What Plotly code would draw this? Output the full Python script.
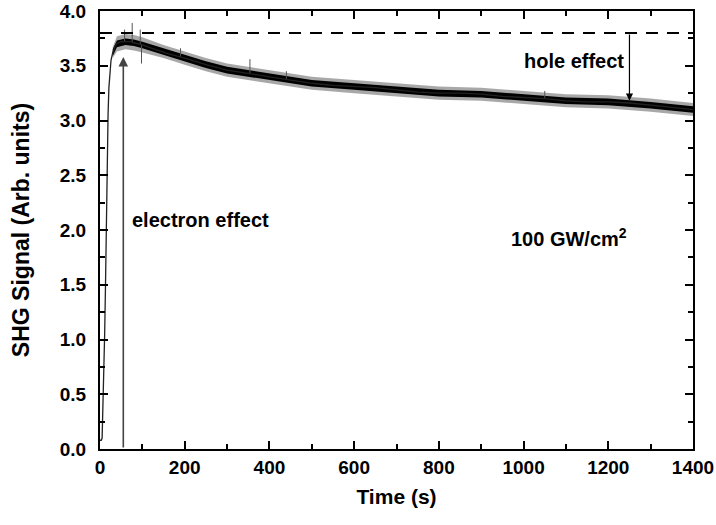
import plotly.graph_objects as go

# --- data ---
time_s = [0, 3, 5, 7, 9, 11, 13, 15, 17, 19, 21, 23, 26, 30, 34, 38, 44, 50, 60, 70,
          80, 100, 130, 160, 200, 250, 300, 350, 400, 450, 500, 550, 600, 650, 700,
          750, 800, 850, 900, 950, 1000, 1050, 1100, 1150, 1200, 1250, 1300, 1350, 1400]
shg = [0.08, 0.08, 0.10, 0.35, 0.70, 1.05, 1.50, 2.10, 2.70, 3.05, 3.30, 3.45, 3.55, 3.62,
       3.67, 3.70, 3.71, 3.72, 3.72, 3.72, 3.71, 3.69, 3.65, 3.61, 3.57, 3.51, 3.46, 3.43,
       3.40, 3.37, 3.34, 3.32, 3.31, 3.30, 3.28, 3.26, 3.25, 3.25, 3.24, 3.22, 3.21, 3.20,
       3.18, 3.17, 3.17, 3.16, 3.14, 3.12, 3.10]

# noise band (read envelopes of the dark trace and of its grey spikes)
band_t = [30, 40, 60, 80, 100, 150, 200, 250, 300, 400, 500, 600, 700, 800, 900, 1000,
          1100, 1200, 1300, 1400]
inner_hi = [3.65, 3.73, 3.75, 3.74, 3.72, 3.66, 3.60, 3.54, 3.49, 3.43, 3.37, 3.34, 3.31,
            3.28, 3.27, 3.24, 3.21, 3.20, 3.17, 3.13]
inner_lo = [3.59, 3.67, 3.69, 3.68, 3.66, 3.60, 3.54, 3.48, 3.43, 3.37, 3.31, 3.28, 3.25,
            3.22, 3.21, 3.18, 3.15, 3.14, 3.11, 3.07]
outer_hi = [3.67, 3.77, 3.79, 3.78, 3.76, 3.69, 3.63, 3.57, 3.52, 3.46, 3.40, 3.37, 3.34,
            3.31, 3.30, 3.27, 3.24, 3.23, 3.20, 3.16]
outer_lo = [3.57, 3.63, 3.65, 3.64, 3.62, 3.57, 3.51, 3.45, 3.40, 3.34, 3.28, 3.25, 3.22,
            3.19, 3.18, 3.15, 3.12, 3.11, 3.08, 3.04]

# isolated spikes: time, base, tip
spike_t = [58, 76, 95, 98, 190, 354, 440, 1050]
spike_base = [3.72, 3.71, 3.69, 3.69, 3.58, 3.43, 3.38, 3.20]
spike_tip = [3.83, 3.89, 3.83, 3.52, 3.66, 3.56, 3.45, 3.27]

ref_level = 3.8
ref_t = [0, 1400]
electron_t = 55
electron_tip = 3.58
hole_t = 1250
hole_tip = 3.18

x_ticks = [0, 200, 400, 600, 800, 1000, 1200, 1400]
y_ticks = [0.0, 0.5, 1.0, 1.5, 2.0, 2.5, 3.0, 3.5, 4.0]

FONT = "Liberation Sans, Arial, sans-serif"

fig = go.Figure()

# outer (grey) noise band
fig.add_trace(go.Scatter(x=band_t, y=outer_hi, mode="lines", line=dict(width=0, color="#888"),
                         showlegend=False, hoverinfo="skip"))
fig.add_trace(go.Scatter(x=band_t, y=outer_lo, mode="lines", line=dict(width=0, color="#888"),
                         fill="tonexty", fillcolor="rgba(110,110,110,0.6)",
                         showlegend=False, hoverinfo="skip"))
# inner (black) band
fig.add_trace(go.Scatter(x=band_t, y=inner_hi, mode="lines", line=dict(width=0, color="black"),
                         showlegend=False, hoverinfo="skip"))
fig.add_trace(go.Scatter(x=band_t, y=inner_lo, mode="lines", line=dict(width=0, color="black"),
                         fill="tonexty", fillcolor="black",
                         showlegend=False, hoverinfo="skip"))

# spikes
sx, sy = [], []
for t, b, tip in zip(spike_t, spike_base, spike_tip):
    sx += [t, t, None]
    sy += [b, tip, None]
fig.add_trace(go.Scatter(x=sx, y=sy, mode="lines", line=dict(width=1, color="#555"),
                         showlegend=False, hoverinfo="skip"))

# main signal
fig.add_trace(go.Scatter(x=time_s, y=shg, mode="lines", line=dict(width=1.3, color="#222"),
                         showlegend=False))

# dashed reference level
fig.add_trace(go.Scatter(x=ref_t, y=[ref_level, ref_level], mode="lines",
                         line=dict(width=2, color="black", dash="12px,9px"),
                         showlegend=False, hoverinfo="skip"))

# arrows
fig.add_annotation(x=electron_t, y=electron_tip, ax=electron_t, ay=0,
                   xref="x", yref="y", axref="x", ayref="y", text="",
                   showarrow=True, arrowhead=2, arrowsize=1.2, arrowwidth=1.6,
                   arrowcolor="#444")
fig.add_annotation(x=hole_t, y=hole_tip, ax=hole_t, ay=ref_level,
                   xref="x", yref="y", axref="x", ayref="y", text="",
                   showarrow=True, arrowhead=2, arrowsize=1.2, arrowwidth=1.2,
                   arrowcolor="black")

# labels
fig.add_annotation(x=0.051, y=0.522, xref="paper", yref="paper", text="<b>electron effect</b>",
                   showarrow=False, xanchor="left", yanchor="middle",
                   font=dict(family=FONT, size=20, color="black"))
fig.add_annotation(x=0.887, y=0.886, xref="paper", yref="paper", text="<b>hole effect</b>",
                   showarrow=False, xanchor="right", yanchor="middle",
                   font=dict(family=FONT, size=20, color="black"))
fig.add_annotation(x=0.69, y=0.483, xref="paper", yref="paper",
                   text="<b>100 GW/cm<sup>2</sup></b>",
                   showarrow=False, xanchor="left", yanchor="middle",
                   font=dict(family=FONT, size=20, color="black"))

axis_common = dict(showgrid=False, zeroline=False, showline=True, linecolor="black",
                   linewidth=2, mirror="ticks", ticks="inside", ticklen=8, tickwidth=1.5,
                   tickcolor="black", automargin=False, ticklabeloverflow="allow",
                   tickfont=dict(family=FONT, size=19, color="black"))

fig.update_xaxes(range=[0, 1400], tickvals=x_ticks, ticktext=[f"<b>{v}</b>" for v in x_ticks],
                 minor=dict(ticks="inside", ticklen=5, tickwidth=1.5, dtick=100, tick0=0,
                            tickcolor="black"),
                 title=dict(text="<b>Time (s)</b>", font=dict(family=FONT, size=21, color="black"),
                            standoff=13),
                 **axis_common)
fig.update_yaxes(range=[0, 4], tickvals=y_ticks, ticktext=[f"<b>{v:.1f}</b>" for v in y_ticks],
                 minor=dict(ticks="inside", ticklen=5, tickwidth=1.5, dtick=0.25, tick0=0,
                            tickcolor="black"),
                 ticklabelstandoff=8,
                 title=dict(text="<b>SHG Signal (Arb. units)</b>",
                            font=dict(family=FONT, size=23, color="black"), standoff=24),
                 **axis_common)

fig.update_layout(width=716, height=525, margin=dict(l=100, r=23, t=11, b=76),
                  plot_bgcolor="white", paper_bgcolor="white", showlegend=False)

# remove the default page margin so the figure sits at the window's top-left corner
fig.write_html("out.html", config={"displayModeBar": False},
               post_script="document.body.style.margin='0';document.body.style.overflow='hidden';")
